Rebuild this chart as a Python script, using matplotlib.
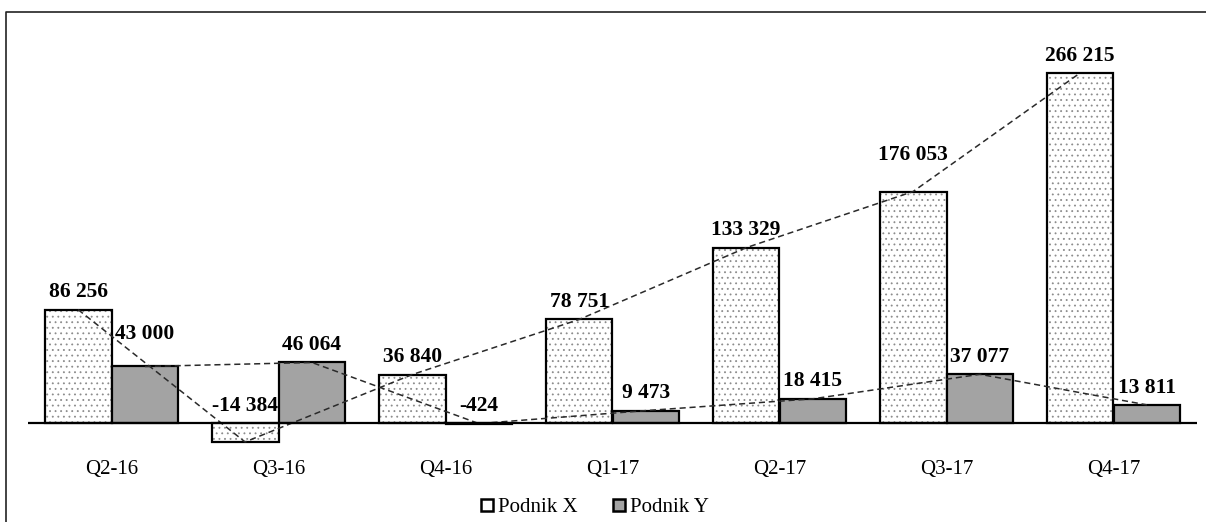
import numpy as np
import matplotlib
matplotlib.use("Agg")
import matplotlib.pyplot as plt
from matplotlib.patches import Rectangle
from matplotlib.lines import Line2D

# Quarterly results of two companies
quarters = ["Q2-16", "Q3-16", "Q4-16", "Q1-17", "Q2-17", "Q3-17", "Q4-17"]
podnik_x = [86256, -14384, 36840, 78751, 133329, 176053, 266215]
podnik_y = [43000, 46064, -424, 9473, 18415, 37077, 13811]
series_names = ["Podnik X", "Podnik Y"]

plt.rcParams["font.family"] = ["Liberation Serif", "DejaVu Serif"]
plt.rcParams["hatch.linewidth"] = 0.6

W, H = 1206, 522
fig = plt.figure(figsize=(W / 100, H / 100), dpi=100)
ax = fig.add_axes([28 / W, 0.1266, (1197 - 28) / W, 0.7935])

x = np.arange(len(quarters))
bw = 0.4
off = 0.2
gray_fill = "#a3a3a3"


def fmt(v):
    s = f"{abs(v):,}".replace(",", " ")
    return s if v >= 0 else "-" + s


# Podnik X: dotted white bars (pattern layer, then outline)
ax.bar(x - off, podnik_x, bw, color="white", hatch="...", edgecolor="#8c8c8c",
       linewidth=0, zorder=2)
ax.bar(x - off, podnik_x, bw, fill=False, edgecolor="black", linewidth=1.6, zorder=3)
# Podnik Y: solid gray bars
ax.bar(x + off, podnik_y, bw, color=gray_fill, edgecolor="black", linewidth=1.6, zorder=3)

# Connecting dashed lines through the bar tops
ax.plot(x - off, podnik_x, ls=(0, (4, 2.5)), color="#2a2a2a", lw=1.1, zorder=4)
ax.plot(x + off, podnik_y, ls=(0, (4, 2.5)), color="#2a2a2a", lw=1.1, zorder=4)

ax.axhline(0, color="black", lw=1.6, zorder=5)

# Value labels; a few are lifted higher to clear the lines
extra_lift = {("x", 5): 14, ("y", 0): 11}
for key, xs, vals in (("x", x - off, podnik_x), ("y", x + off, podnik_y)):
    for i, (xi, v) in enumerate(zip(xs, vals)):
        lift = 12.5 + extra_lift.get((key, i), 0)
        ax.annotate(fmt(v), xy=(xi, max(v, 0)), xytext=(0, lift),
                    textcoords="offset points", ha="center", va="center",
                    fontsize=15.5, fontweight="bold", zorder=6)

ax.set_xlim(-0.5, len(quarters) - 0.5)
ax.set_ylim(-25000, 290000)
ax.set_xticks(x)
ax.set_xticklabels(quarters, fontsize=15)
ax.tick_params(axis="x", length=0, pad=3)
ax.set_yticks([])
for s in ax.spines.values():
    s.set_visible(False)

# Legend
h_x = Rectangle((0, 0), 1, 1, facecolor="white", edgecolor="black", linewidth=1.8)
h_y = Rectangle((0, 0), 1, 1, facecolor=gray_fill, edgecolor="black", linewidth=1.8)
fig.legend([h_x, h_y], series_names, loc="center", bbox_to_anchor=(595 / W, 1 - 508 / H),
           ncol=2, frameon=False, fontsize=15, handlelength=0.55, handleheight=0.55,
           handletextpad=0.25, columnspacing=1.7, borderpad=0)

# Outer frame (left and top edges)
fig.add_artist(Line2D([6 / W, 6 / W, 1.0], [0.0, 1 - 12 / H, 1 - 12 / H],
                      transform=fig.transFigure, color="#222222", lw=1.2))

fig.savefig("out.png", dpi=100)
